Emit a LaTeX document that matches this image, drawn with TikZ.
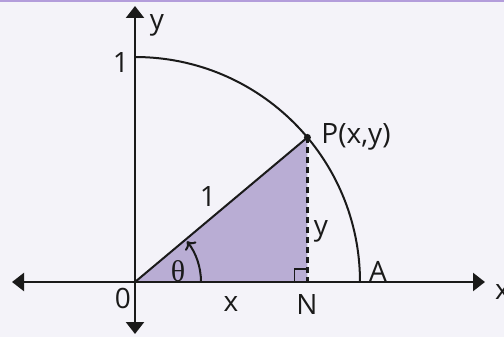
\documentclass[tikz,border=0pt]{standalone}
\usepackage{fontspec}
\setmainfont{Open Sans}
\newfontfamily\thetafont{Liberation Serif}
\usetikzlibrary{arrows.meta}
\definecolor{bgc}{HTML}{F4F3F9}
\definecolor{topc}{HTML}{B39DDB}
\definecolor{trif}{HTML}{B9ADD4}
\definecolor{ink}{HTML}{1A1A1A}
\begin{document}
\begin{tikzpicture}[x=1pt,y=-1pt,
  lab/.style={inner sep=0pt,text=ink,font=\fontsize{28}{30}\selectfont},
  axisline/.style={draw=ink,line width=2.3pt,-{Triangle[length=12pt,width=18pt]}},
  thin/.style={draw=ink,line width=2pt}]
\useasboundingbox (0,0) rectangle (504,337);
\fill[bgc] (0,0) rectangle (504,337);
\fill[topc] (0,0) rectangle (504,2.5);
% points
\coordinate (O) at (135,282);
\coordinate (P) at (307.4,137.4);
\coordinate (N) at (307.4,282);
\coordinate (A) at (360,282);
\coordinate (Xl) at (12,282);
\coordinate (Xr) at (485,282);
\coordinate (Yt) at (135,6);
\coordinate (Yb) at (135,334);
% triangle
\fill[trif] (O) -- (P) -- (N) -- cycle;
% axes
\draw[axisline] (O) -- (Xr);
\draw[axisline] (O) -- (Xl);
\draw[axisline] (O) -- (Yt);
\draw[axisline] (O) -- (Yb);
% quarter circle
\draw[thin] (A) arc[start angle=0,end angle=-90,radius=225];
% hypotenuse and dashed
\draw[thin] (O) -- (P);
\draw[draw=ink,line width=2.4pt,dash pattern=on 6pt off 4pt] (P) -- (N);
\fill[ink] (P) circle (3.5pt);
% right angle
\draw[draw=ink,line width=1.8pt] ([xshift=-13pt]N) -- ++(0,-13) -- ++(13,0);
% angle arc
\draw[draw=ink,line width=2pt,-{To[length=7pt,width=14pt]}] ([xshift=66pt]O) arc[start angle=0,end angle=-38,radius=66];
% labels
\node[lab] (ly) at (157,25) {y};
\node[lab] (l1) at (121,63) {1};
\node[lab] (lP) at (356,137) {P(x,y)};
\node[lab] (lr) at (208,197) {1};
\node[lab] (lyy) at (321,231) {y};
\node[lab,font=\thetafont\fontsize{30}{32}\selectfont] (lt) at (178,271) {θ};
\node[lab] (l0) at (123,298) {0};
\node[lab] (lx) at (231,304) {x};
\node[lab] (lN) at (307,305) {N};
\node[lab] (lA) at (378,271) {A};
\node[lab,anchor=west] (lxr) at (495,292) {x};
\end{tikzpicture}
\end{document}
